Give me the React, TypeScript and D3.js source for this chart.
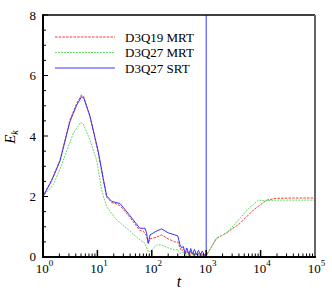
import React, { useRef, useEffect } from "react";
import * as d3 from "d3";

const redT = [1, 1.44, 2.05, 3.13, 4.16, 5.1, 5.6, 7.3, 10.4, 12.8, 14.8, 18.3, 22, 26, 40, 60, 70, 80, 86, 93, 120, 151, 200, 265, 300, 330, 354, 380, 410, 440, 480, 520, 560, 610, 660, 720, 780, 850, 920, 1000, 1550, 2380, 4170, 7340, 12900, 19800, 40000, 100000];
const redE = [2.0, 2.55, 3.2, 4.53, 5.08, 5.36, 5.3, 4.64, 3.43, 2.55, 1.98, 1.8, 1.76, 1.7, 1.3, 0.88, 0.85, 0.7, 0.45, 0.6, 0.65, 0.73, 0.6, 0.5, 0.5, 0.3, 0.2, 0.25, 0.08, 0.2, 0.05, 0.2, 0.06, 0.15, 0.05, 0.12, 0.04, 0.1, 0.03, 0.05, 0.62, 0.8, 1.11, 1.55, 1.88, 1.94, 1.95, 1.95];

const blueT = [1, 1.44, 2.05, 3.13, 4.16, 5.1, 5.6, 7.3, 10.4, 12.8, 14.8, 18.3, 22, 26, 40, 60, 70, 75, 80, 86, 93, 120, 151, 200, 265, 300, 330, 354, 380, 410, 440, 480, 520, 560, 610, 660, 720, 780, 850, 920, 1000, 1000];
const blueE = [2.0, 2.52, 3.17, 4.48, 5.02, 5.3, 5.26, 4.66, 3.48, 2.6, 2.02, 1.84, 1.8, 1.77, 1.36, 0.95, 0.95, 0.95, 0.8, 0.45, 0.73, 0.85, 0.93, 0.8, 0.73, 0.7, 0.4, 0.3, 0.35, 0.12, 0.3, 0.1, 0.28, 0.1, 0.25, 0.08, 0.22, 0.08, 0.2, 0.06, 0.1, 8];

const greenT = [1, 1.55, 2.05, 2.36, 3.6, 4.93, 5.5, 7.3, 9.7, 10.4, 12, 14.8, 22.7, 40, 60.7, 75, 86, 93, 123, 151, 200, 265, 300, 330, 380, 420, 460, 520, 580, 650, 720, 800, 900, 1000, 1550, 2380, 4170, 6000, 9100, 12000, 20000, 100000];
const greenE = [2.0, 2.4, 2.9, 3.2, 4.09, 4.45, 4.4, 3.87, 3.2, 2.88, 2.2, 1.66, 1.22, 0.85, 0.56, 0.45, 0.18, 0.18, 0.4, 0.4, 0.3, 0.23, 0.25, 0.12, 0.15, 0.03, 0.12, 0.02, 0.1, 0.02, 0.08, 0.02, 0.06, 0.02, 0.62, 0.8, 1.28, 1.6, 1.88, 1.86, 1.88, 1.88];

const legendNames = ["D3Q19 MRT", "D3Q27 MRT", "D3Q27 SRT"];
const yTicks = [0, 2, 4, 6, 8];
const xDecades = [0, 1, 2, 3, 4, 5];

const FONT = "'Liberation Serif', 'Times New Roman', Times, serif";

function App() {
    const svgRef = useRef(null);
    useEffect(() => {
        var svg = d3.select(svgRef.current);
        svg.selectChildren().remove();
        svg.attr("width", 332).attr("height", 296);

        var left = 43, right = 315, top = 15, bottom = 257;
        var x = d3.scaleLog().domain([1, 1e5]).range([left, right]);
        var y = d3.scaleLinear().domain([0, 8]).range([bottom, top]);

        svg.append("defs").append("clipPath").attr("id", "plotclip")
            .append("rect").attr("x", left).attr("y", top)
            .attr("width", right - left).attr("height", bottom - top);

        var series = [
            { t: redT, e: redE, color: "#f03a3a", dash: "2.5,1.2" },
            { t: greenT, e: greenE, color: "#55dd55", dash: "1.8,1.2" },
            { t: blueT, e: blueE, color: "#3535ff", dash: null },
        ];

        var line = d3.line().x(d => x(d[0])).y(d => y(d[1]));
        var g = svg.append("g").attr("clip-path", "url(#plotclip)");
        series.forEach(s => {
            g.append("path")
                .datum(s.t.map((t, i) => [t, s.e[i]]))
                .attr("fill", "none")
                .attr("stroke", s.color)
                .attr("stroke-width", 1)
                .attr("stroke-dasharray", s.dash)
                .attr("d", line);
        });

        // y ticks (inward)
        var yMinor = d3.range(0, 8.01, 0.5);
        svg.append("g").selectAll("line").data(yMinor).join("line")
            .attr("x1", left).attr("x2", d => left + (d % 2 === 0 ? 5 : 3))
            .attr("y1", d => y(d)).attr("y2", d => y(d))
            .attr("stroke", "#000").attr("stroke-width", 1);
        svg.append("g").selectAll("text").data(yTicks).join("text")
            .attr("x", left - 7).attr("y", d => y(d) + (d === 0 ? 3.5 : 4.5))
            .attr("text-anchor", "end")
            .attr("font-family", FONT).attr("font-size", 13)
            .text(d => d);

        // x ticks (inward)
        var xMinor = [];
        for (var p = 0; p < 5; p++) {
            for (var k = 2; k <= 9; k++) xMinor.push(k * Math.pow(10, p));
        }
        svg.append("g").selectAll("line").data(xMinor).join("line")
            .attr("x1", d => x(d)).attr("x2", d => x(d))
            .attr("y1", bottom).attr("y2", bottom - 3.5)
            .attr("stroke", "#000").attr("stroke-width", 1);
        svg.append("g").selectAll("line").data(xDecades).join("line")
            .attr("x1", d => x(Math.pow(10, d))).attr("x2", d => x(Math.pow(10, d)))
            .attr("y1", bottom).attr("y2", bottom - 7)
            .attr("stroke", "#000").attr("stroke-width", 1.5);
        var xl = svg.append("g").selectAll("text").data(xDecades).join("text")
            .attr("x", d => x(Math.pow(10, d)) + 1.5)
            .attr("y", 273)
            .attr("text-anchor", "middle")
            .attr("font-family", FONT).attr("font-size", 13);
        xl.append("tspan").text("10");
        xl.append("tspan").attr("dy", -7).attr("font-size", 9).text(d => d);

        // frame
        svg.append("line").attr("x1", left).attr("x2", right).attr("y1", top).attr("y2", top)
            .attr("stroke", "#000").attr("stroke-width", 1.5);
        svg.append("line").attr("x1", right).attr("x2", right).attr("y1", top).attr("y2", bottom)
            .attr("stroke", "#666").attr("stroke-width", 2);
        svg.append("line").attr("x1", left).attr("x2", left).attr("y1", top - 0.75).attr("y2", bottom + 1)
            .attr("stroke", "#000").attr("stroke-width", 2);
        svg.append("line").attr("x1", left).attr("x2", right + 1).attr("y1", bottom).attr("y2", bottom)
            .attr("stroke", "#000").attr("stroke-width", 2);

        // axis titles
        var yt = svg.append("text")
            .attr("transform", "translate(15,137) rotate(-90)")
            .attr("text-anchor", "middle")
            .attr("font-family", FONT).attr("font-style", "italic").attr("font-size", 15);
        yt.append("tspan").text("E");
        yt.append("tspan").attr("dy", 3).attr("font-size", 10).text("k");

        svg.append("text").attr("x", 179).attr("y", 287)
            .attr("text-anchor", "middle")
            .attr("font-family", FONT).attr("font-style", "italic").attr("font-size", 16)
            .text("t");

        // legend
        var lg = svg.append("g");
        legendNames.forEach((name, i) => {
            var ly = 37 + i * 15.5;
            lg.append("line").attr("x1", 55).attr("x2", 115).attr("y1", ly).attr("y2", ly)
                .attr("stroke", series[i].color).attr("stroke-width", 1)
                .attr("stroke-dasharray", series[i].dash);
            lg.append("text").attr("x", 125).attr("y", ly + 4.5)
                .attr("font-family", FONT).attr("font-size", 13)
                .text(name);
        });
    }, []);
    return (
        <React.Fragment>
            <svg ref={svgRef} style={{ position: "absolute", left: 0, top: 0 }}></svg>
        </React.Fragment>
    );
}

export default App;
